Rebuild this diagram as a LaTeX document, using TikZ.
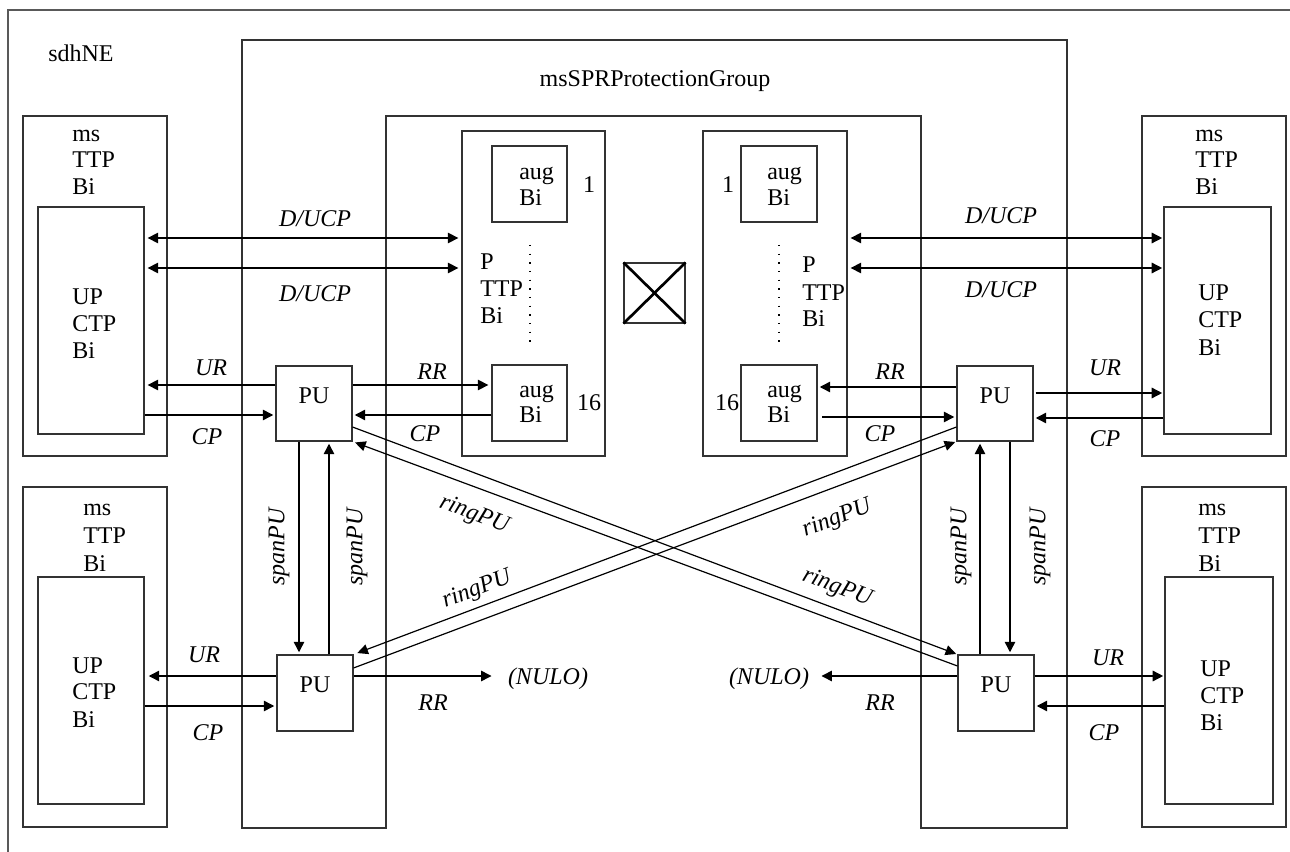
\documentclass[tikz,border=0pt]{standalone}
\usepackage{fontspec}
\setmainfont{Liberation Serif}
\usetikzlibrary{arrows.meta,fit}
\begin{document}
\begin{tikzpicture}[x=0.75pt,y=-0.75pt,
  font=\fontsize{18}{20}\selectfont,
  box/.style={draw=black!80,line width=0.8pt,inner sep=0pt},
  frame/.style={draw=black!80,line width=0.8pt},
  arr/.style={line width=2pt,-{Triangle[length=8pt,width=7.5pt]}},
  dbl/.style={line width=2pt,{Triangle[length=8pt,width=7.5pt]}-{Triangle[length=8pt,width=7.5pt]}},
  ring/.style={line width=0.9pt,-{Triangle[length=8pt,width=7.5pt]}},
  tx/.style={anchor=base west,inner sep=0pt},
  tn/.style={anchor=base,inner sep=0pt},
  il/.style={anchor=base,inner sep=0pt,font=\fontsize{18}{20}\selectfont\itshape},
  rl/.style={anchor=center,inner sep=0pt,font=\fontsize{18}{20}\selectfont\itshape},
  dotline/.style={line width=1.1pt,dash pattern=on 1.1pt off 5.4pt}]
\useasboundingbox (0,0) rectangle (1290,852);
% outer sdhNE frame
\draw[draw=black!65,line width=1.8pt] (8,852) -- (8,10) -- (1290,10);
\node[tx] (sdh) at (48,62) {sdhNE};
% msSPRProtectionGroup U-shape
\draw[frame] (242,828) -- (242,40) -- (1067,40) -- (1067,828) -- (921,828) -- (921,116) -- (386,116) -- (386,828) -- cycle;
\node[tn] (spr) at (655,87) {msSPRProtectionGroup};
% msTTPBi boxes
\node[box,fit={(23,116)(167,456)}] (ms1) {};
\node[box,fit={(38,207)(144,434)}] (up1) {};
\node[box,fit={(23,487)(167,827)}] (ms3) {};
\node[box,fit={(38,577)(144,804)}] (up3) {};
\node[box,fit={(1142,116)(1286,456)}] (ms2) {};
\node[box,fit={(1164,207)(1271,434)}] (up2) {};
\node[box,fit={(1142,487)(1286,827)}] (ms4) {};
\node[box,fit={(1165,577)(1273,804)}] (up4) {};
% texts in msTTPBi
\node[tx] (t1a) at (72,142) {ms};
\node[tx] (t1b) at (72,168) {TTP};
\node[tx] (t1c) at (72,195) {Bi};
\node[tx] (u1a) at (72,305) {UP};
\node[tx] (u1b) at (72,332) {CTP};
\node[tx] (u1c) at (72,359) {Bi};
\node[tx] (t3a) at (83,515) {ms};
\node[tx] (t3b) at (83,543) {TTP};
\node[tx] (t3c) at (83,571) {Bi};
\node[tx] (u3a) at (72,673) {UP};
\node[tx] (u3b) at (72,699) {CTP};
\node[tx] (u3c) at (72,727) {Bi};
\node[tx] (t2a) at (1195,142) {ms};
\node[tx] (t2b) at (1195,168) {TTP};
\node[tx] (t2c) at (1195,195) {Bi};
\node[tx] (u2a) at (1198,301) {UP};
\node[tx] (u2b) at (1198,328) {CTP};
\node[tx] (u2c) at (1198,356) {Bi};
\node[tx] (t4a) at (1198,515) {ms};
\node[tx] (t4b) at (1198,543) {TTP};
\node[tx] (t4c) at (1198,571) {Bi};
\node[tx] (u4a) at (1200,676) {UP};
\node[tx] (u4b) at (1200,703) {CTP};
\node[tx] (u4c) at (1200,730) {Bi};
% PTTPBi boxes
\node[box,fit={(462,131)(605,456)}] (pt1) {};
\node[box,fit={(703,131)(847,456)}] (pt2) {};
\node[box,fit={(492,146)(567,222)}] (ag1) {};
\node[box,fit={(492,365)(567,441)}] (ag2) {};
\node[box,fit={(741,146)(817,222)}] (ag3) {};
\node[box,fit={(741,365)(817,441)}] (ag4) {};
\node[tx] (a1a) at (519,180) {aug};
\node[tx] (a1b) at (519,206) {Bi};
\node[tx] (a2a) at (519,398) {aug};
\node[tx] (a2b) at (519,423) {Bi};
\node[tx] (a3a) at (767,180) {aug};
\node[tx] (a3b) at (767,206) {Bi};
\node[tx] (a4a) at (767,398) {aug};
\node[tx] (a4b) at (767,423) {Bi};
\node[tn] (n1) at (589,193) {1};
\node[tn] (n16) at (589,411) {16};
\node[tn] (m1) at (728,193) {1};
\node[tn] (m16) at (727,411) {16};
\node[tx] (p1a) at (480,270) {P};
\node[tx] (p1b) at (480,297) {TTP};
\node[tx] (p1c) at (480,324) {Bi};
\node[tx] (p2a) at (802,273) {P};
\node[tx] (p2b) at (802,301) {TTP};
\node[tx] (p2c) at (802,327) {Bi};
\draw[dotline] (530,245) -- (530,342);
\draw[dotline] (779,245) -- (779,342);
% cross box
\node[box,fit={(624,263)(685,323)}] (xb) {};
\draw[line width=2pt] (xb.north west) -- (xb.south east);
\draw[line width=2pt] (xb.north east) -- (xb.south west);
% PU boxes
\node[box,fit={(276,366)(352,441)}] (pu1) {PU};
\node[box,fit={(957,366)(1033,441)}] (pu2) {PU};
\node[box,fit={(277,655)(353,731)}] (pu3) {PU};
\node[box,fit={(958,655)(1034,731)}] (pu4) {PU};
% NULO
\node[tn,font=\fontsize{18}{20}\selectfont\itshape] (nulo1) at (548,684) {(NULO)};
\node[tn,font=\fontsize{18}{20}\selectfont\itshape] (nulo2) at (769,684) {(NULO)};
% D/UCP arrows
\draw[dbl,shorten <=2.2pt,shorten >=2.2pt] (up1.east |- 0,238) -- (pt1.west |- 0,238);
\draw[dbl,shorten <=2.2pt,shorten >=2.2pt] (up1.east |- 0,268) -- (pt1.west |- 0,268);
\draw[dbl,shorten <=2.2pt,shorten >=0.8pt] (pt2.east |- 0,238) -- (up2.west |- 0,238);
\draw[dbl,shorten <=2.2pt,shorten >=0.8pt] (pt2.east |- 0,268) -- (up2.west |- 0,268);
\node[il] (l1) at (315,227) {D/UCP};
\node[il] (l2) at (315,302) {D/UCP};
\node[il] (l3) at (1001,224) {D/UCP};
\node[il] (l4) at (1001,298) {D/UCP};
% top-left PU
\draw[arr,shorten >=2.2pt] (pu1.west |- 0,385) -- (up1.east |- 0,385);
\draw[arr,shorten >=1.5pt] (up1.east |- 0,415) -- (pu1.west |- 0,415);
\draw[arr,shorten >=2.2pt] (pu1.east |- 0,385) -- (ag2.west |- 0,385);
\draw[arr,shorten >=1.5pt] (ag2.west |- 0,415) -- (pu1.east |- 0,415);
\node[il] (l5) at (211,376) {UR};
\node[il] (l6) at (207,445) {CP};
\node[il] (l7) at (432,380) {RR};
\node[il] (l8) at (425,442) {CP};
% top-right PU
\draw[arr,shorten >=1.5pt] (pu2.west |- 0,387) -- (ag4.east |- 0,387);
\draw[arr,shorten <=3.5pt,shorten >=1.5pt] (ag4.east |- 0,417) -- (pu2.west |- 0,417);
\draw[arr,shorten <=1.5pt,shorten >=0.8pt] (pu2.east |- 0,393) -- (up2.west |- 0,393);
\draw[arr,shorten >=1.5pt] (up2.west |- 0,418) -- (pu2.east |- 0,418);
\node[il] (l9) at (890,380) {RR};
\node[il] (l10) at (880,442) {CP};
\node[il] (l11) at (1105,376) {UR};
\node[il] (l12) at (1105,446) {CP};
% bottom-left PU
\draw[arr,shorten >=3pt] (pu3.west |- 0,676) -- (up3.east |- 0,676);
\draw[arr,shorten >=1.5pt] (up3.east |- 0,706) -- (pu3.west |- 0,706);
\draw[arr,shorten >=12pt] (pu3.east |- 0,676) -- (nulo1.west |- 0,676);
\node[il] (l13) at (204,662) {UR};
\node[il] (l14) at (208,740) {CP};
\node[il] (l15) at (433,710) {RR};
% bottom-right PU
\draw[arr,shorten >=9pt] (pu4.west |- 0,676) -- (nulo2.east |- 0,676);
\draw[arr,shorten >=0.8pt] (pu4.east |- 0,676) -- (up4.west |- 0,676);
\draw[arr,shorten >=1.5pt] (up4.west |- 0,706) -- (pu4.east |- 0,706);
\node[il] (l16) at (880,710) {RR};
\node[il] (l17) at (1108,665) {UR};
\node[il] (l18) at (1104,740) {CP};
% span arrows
\draw[arr,shorten >=1.5pt] (pu1.south -| 299,0) -- (pu3.north -| 299,0);
\draw[arr,shorten >=1.5pt] (pu3.north -| 329,0) -- (pu1.south -| 329,0);
\draw[arr,shorten >=1.5pt] (pu4.north -| 980,0) -- (pu2.south -| 980,0);
\draw[arr,shorten >=1.5pt] (pu2.south -| 1010,0) -- (pu4.north -| 1010,0);
\node[rl,rotate=90] (s1) at (279,547) {spanPU};
\node[rl,rotate=90] (s2) at (357,547) {spanPU};
\node[rl,rotate=90] (s3) at (961,547) {spanPU};
\node[rl,rotate=90] (s4) at (1040,547) {spanPU};
% ring arrows
\draw[ring,shorten >=1pt] (pu1.east |- 0,427) -- (pu4.north west);
\draw[ring,shorten >=2pt] (pu4.west |- 0,666) -- (pu1.south east);
\draw[ring,shorten >=3pt] (pu2.west |- 0,427) -- (pu3.north east);
\draw[ring,shorten >=1pt] (pu3.east |- 0,668) -- (pu2.south west);
\node[rl,rotate=-21] (r1) at (474,515) {ringPU};
\node[rl,rotate=21] (r2) at (477,590) {ringPU};
\node[rl,rotate=21] (r3) at (837,519) {ringPU};
\node[rl,rotate=-21] (r4) at (837,588) {ringPU};
\end{tikzpicture}
\end{document}
